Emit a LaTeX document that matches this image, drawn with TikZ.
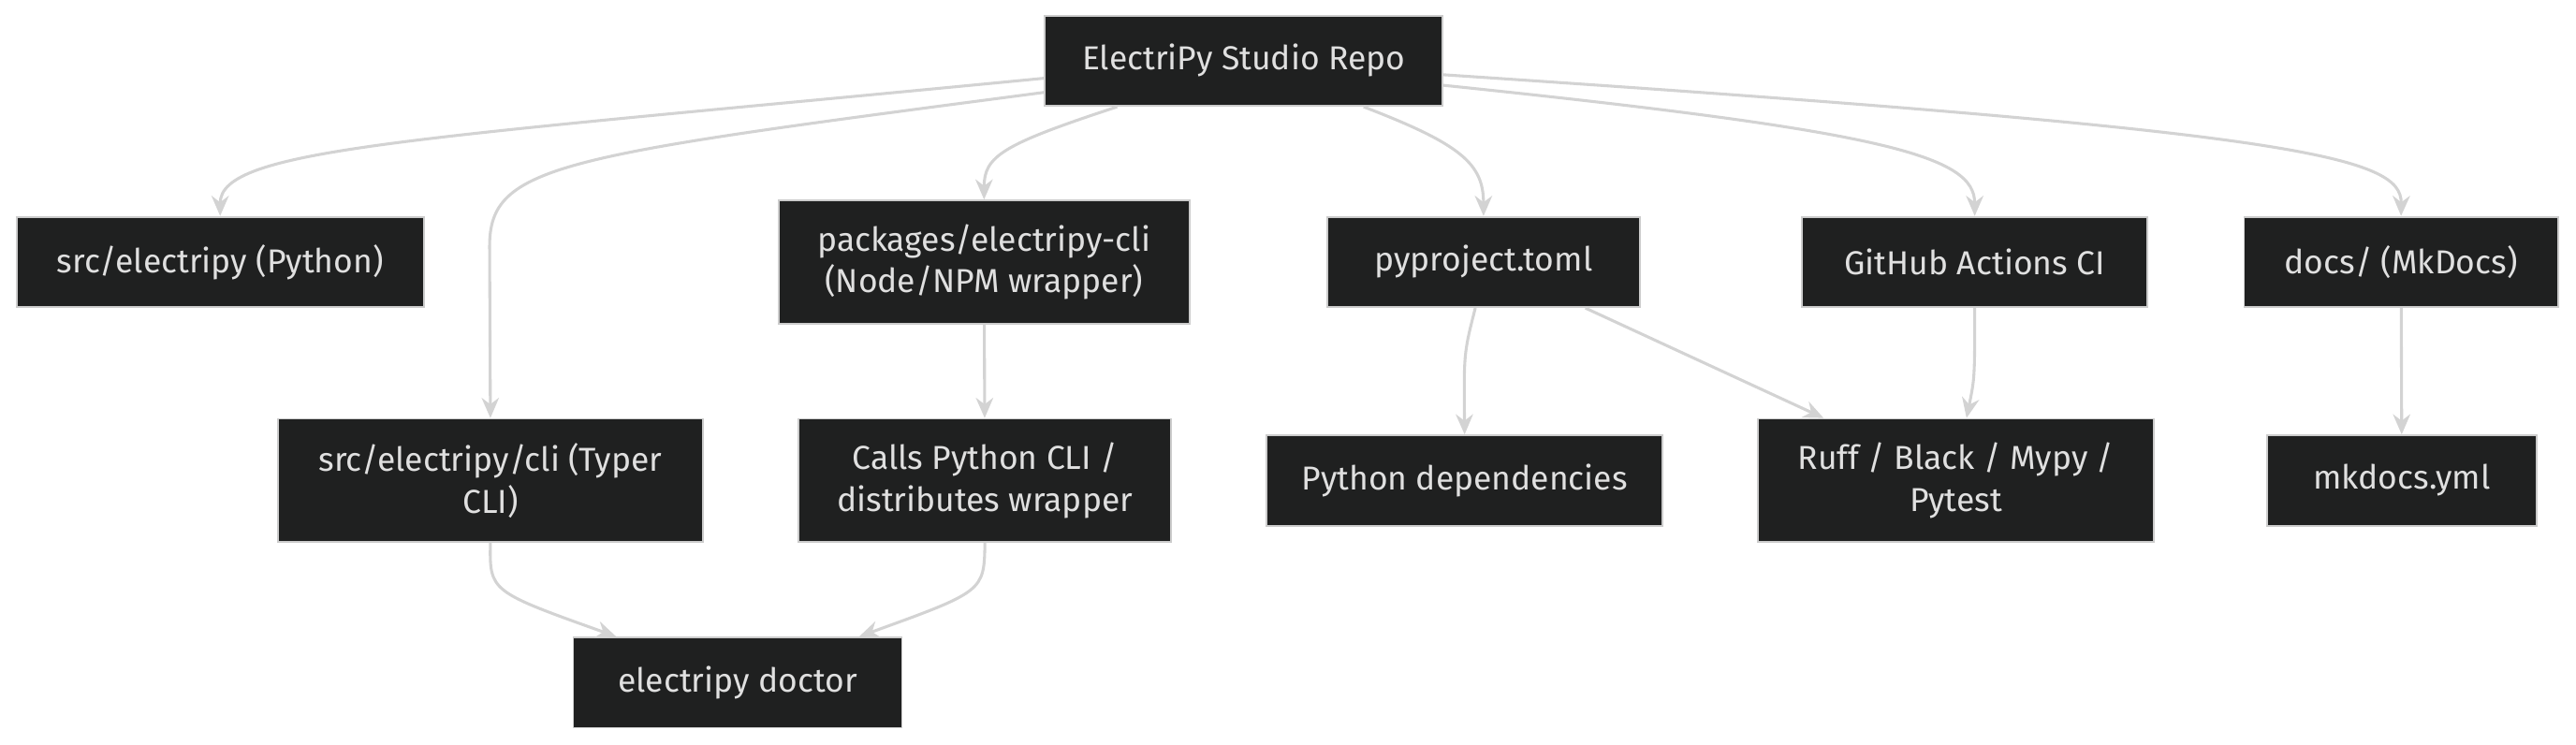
\documentclass[tikz,border=0pt]{standalone}
\usepackage{fontspec}
\setmainfont{Fira Sans}
\usetikzlibrary{arrows.meta}
\definecolor{boxfill}{HTML}{1F2020}
\definecolor{boxline}{HTML}{CCCCCC}
\definecolor{linkcol}{HTML}{D3D3D3}
\definecolor{txtcol}{HTML}{E0E0E0}

\begin{document}
\begin{tikzpicture}[x=0.02cm, y=-0.02cm,
    box/.style={draw=boxline, fill=boxfill, text=txtcol, line width=0.6pt,
        align=center, font=\fontsize{11.5}{14.5}\selectfont, inner sep=0pt},
    short/.style={box, minimum height=1.1cm},
    tall/.style={box, minimum height=1.5cm},
    link/.style={draw=linkcol, line width=1pt, -{Stealth[length=7pt,width=6pt]}}]
    \useasboundingbox (0,0) rectangle (1568,453);

%top row
    \node[short, minimum width=4.84cm] (repo) at (757,37) {ElectriPy Studio Repo};
    \node[short, minimum width=4.96cm] (src) at (134,159.5) {src/electripy (Python)};
    \node[tall, minimum width=5.0cm] (pkg) at (599,159.5) {packages/electripy-cli\\(Node/NPM wrapper)};
    \node[short, minimum width=3.8cm] (pyproj) at (903,159.5) {pyproject.toml};
    \node[short, minimum width=4.2cm] (gha) at (1202,159.5) {GitHub Actions CI};
    \node[short, minimum width=3.82cm] (docs) at (1461.5,159.5) {docs/ (MkDocs)};

%second row
    \node[tall, minimum width=5.18cm] (cli) at (298.5,292.5) {src/electripy/cli (Typer\\CLI)};
    \node[tall, minimum width=4.54cm] (calls) at (599.5,292.5) {Calls Python CLI /\\distributes wrapper};
    \node[short, minimum width=4.82cm] (deps) at (891.5,292.5) {Python dependencies};
    \node[tall, minimum width=4.82cm] (ruff) at (1190.5,292.5) {Ruff / Black / Mypy /\\Pytest};
    \node[short, minimum width=3.28cm] (mkdocs) at (1462,292.5) {mkdocs.yml};

%bottom
    \node[short, minimum width=4.0cm] (doctor) at (449,415.5) {electripy doctor};

%links
    \draw[link] (repo.185) .. controls (250,85) and (134,90) .. (src.north);
    \draw[link] (repo.189) .. controls (340,95) and (298,100) .. (298,150) -- (cli.north);
    \draw[link] (repo.200) .. controls (610,88) and (599,95) .. (pkg.north);
    \draw[link] (repo.339) .. controls (890,88) and (903,100) .. (pyproj.north);
    \draw[link] (repo.353) .. controls (1150,80) and (1202,95) .. (gha.north);
    \draw[link] (repo.356) .. controls (1400,80) and (1462,95) .. (docs.north);
    \draw[link] (pkg) -- (calls);
    \draw[link] (pyproj.south -| 898,0) .. controls (891,215) .. (deps.north);
    \draw[link] (pyproj.south -| 965,0) -- (ruff.north -| 1110,0);
    \draw[link] (gha.south) .. controls (1202,230) .. (ruff.north -| 1197,0);
    \draw[link] (docs) -- (mkdocs);
    \draw[link] (cli.south) .. controls (298,360) .. (doctor.north -| 375,0);
    \draw[link] (calls.south) .. controls (599,360) .. (doctor.north -| 523,0);
\end{tikzpicture}
\end{document}
